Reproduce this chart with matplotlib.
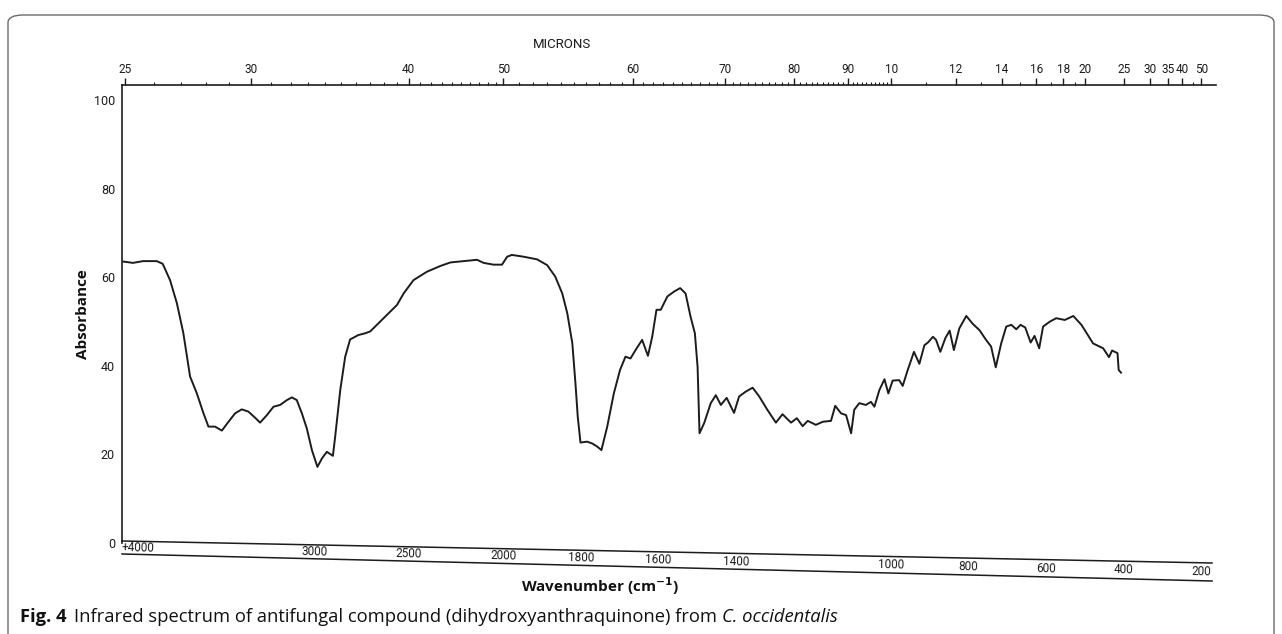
import numpy as np
import matplotlib
matplotlib.use("Agg")
import matplotlib.pyplot as plt
from matplotlib.transforms import blended_transform_factory
from matplotlib.patches import FancyBboxPatch
from matplotlib.lines import Line2D

# ---------------- data ----------------
wavenumber = [4009, 3958, 3905, 3832, 3801, 3762, 3726, 3692, 3656, 3621, 3586, 3559, 3524, 3488,
              3453, 3418, 3383, 3348, 3312, 3286, 3250, 3215, 3180, 3144, 3118, 3092, 3065, 3039,
              3012, 2983, 2959, 2933, 2901, 2889, 2862, 2836, 2810, 2766, 2730, 2704, 2633, 2562,
              2527, 2475, 2404, 2333, 2280, 2210, 2139, 2104, 2051, 2007, 1990, 1978, 1948, 1913,
              1887, 1866, 1848, 1835, 1822, 1814, 1808, 1801, 1784, 1771, 1758, 1747, 1732, 1715,
              1699, 1685, 1672, 1659, 1642, 1627, 1616, 1605, 1594, 1577, 1560, 1544, 1530, 1517,
              1506, 1499, 1494, 1482, 1465, 1452, 1439, 1424, 1405, 1392, 1375, 1357, 1340, 1319,
              1297, 1280, 1258, 1243, 1228, 1215, 1194, 1176, 1155, 1144, 1129, 1116, 1103, 1095,
              1082, 1065, 1052, 1043, 1030, 1017, 1007, 996, 979, 970, 957, 941, 927, 914, 905,
              892, 884, 873, 860, 849, 838, 824, 806, 789, 772, 755, 742, 730, 716, 703, 690, 677,
              666, 654, 640, 630, 618, 608, 591, 574, 552, 530, 509, 479, 453, 438, 430, 416, 413,
              407]
absorbance = [63.6, 63.3, 63.7, 63.7, 63.1, 59.4, 54.2, 47.5, 37.6, 33.9, 29.4, 26.3, 26.3, 25.4,
              27.4, 29.3, 30.2, 29.7, 28.3, 27.2, 28.9, 30.8, 31.2, 32.3, 32.9, 32.3, 29.3, 25.9,
              21.0, 17.2, 19.1, 20.6, 19.7, 24.0, 34.6, 42.1, 46.0, 47.0, 47.4, 47.8, 50.8, 53.8,
              56.4, 59.4, 61.3, 62.6, 63.4, 63.7, 64.0, 63.3, 62.9, 62.9, 64.7, 65.1, 64.7, 64.1,
              62.8, 60.2, 56.4, 51.9, 45.1, 36.1, 28.5, 22.7, 22.9, 22.5, 21.8, 21.0, 26.3, 33.8,
              39.1, 42.1, 41.7, 43.6, 45.9, 42.3, 46.6, 52.7, 52.7, 55.7, 56.8, 57.6, 56.4, 51.1,
              47.4, 39.8, 24.8, 27.1, 31.6, 33.4, 31.2, 32.8, 29.4, 33.1, 34.2, 35.1, 33.1, 30.1,
              27.2, 29.1, 27.2, 28.2, 26.4, 27.6, 26.7, 27.4, 27.6, 31.0, 29.3, 28.9, 24.8, 30.1,
              31.6, 31.2, 31.9, 30.8, 34.6, 37.0, 33.8, 36.7, 36.8, 35.5, 39.1, 43.2, 40.5, 44.7, 45.3,
              46.6, 45.9, 43.2, 46.3, 48.0, 43.6, 48.5, 51.3, 49.5, 48.1, 45.9, 44.4, 39.7, 45.1, 48.9,
              49.3, 48.3, 49.3, 48.7, 45.3, 46.8, 44.0, 48.9, 50.0, 50.8, 50.4, 51.3, 49.3, 45.1, 44.0,
              42.0, 43.5, 42.9, 39.1, 38.5]

wn_ticks = [4000, 3000, 2500, 2000, 1800, 1600, 1400, 1000, 800, 600, 400, 200]
wn_labels = ["+4000", "3000", "2500", "2000", "1800", "1600", "1400", "1000", "800", "600", "400", "200"]
micron_major = [2.5, 3.0, 4.0, 5.0, 6.0, 7.0, 8.0, 9.0, 10, 12, 14, 16, 18, 20, 25, 30, 35, 40, 50]
micron_labels = ["25", "30", "40", "50", "60", "70", "80", "90", "10", "12", "14", "16", "18", "20",
                 "25", "30", "35", "40", "50"]
micron_minor = [round(2.5 + 0.1 * i, 2) for i in range(1, 75)] + [11, 13, 15, 17, 19, 45]
y_ticks = [0, 20, 40, 60, 80, 100]

# ---------------- figure ----------------
W, H = 1282, 634
fig = plt.figure(figsize=(W / 100, H / 100), dpi=100)
fig.patch.set_facecolor("white")

L, R, T, B = 122, 1216, 85, 543
ax = fig.add_axes([L / W, (H - B) / H, (R - L) / W, (B - T) / H])


def fwd(w):
    w = np.asarray(w, dtype=float)
    return np.where(w >= 2000, w, 2.05 * w - 2100)


def inv(u):
    u = np.asarray(u, dtype=float)
    return np.where(u >= 2000, u, (u + 2100) / 2.05)


ax.set_xscale("function", functions=(fwd, inv))
ax.set_xlim(4016, 162)
ax.set_ylim(0, 103.5)

ink = "#1c1c1c"
ax.plot(wavenumber, absorbance, color=ink, lw=1.4, solid_joinstyle="round")

for s in ["top", "right", "bottom"]:
    ax.spines[s].set_visible(False)
ax.spines["left"].set_color(ink)
ax.spines["left"].set_linewidth(1.2)

ax.set_xticks([])
ax.set_yticks(y_ticks)
ax.set_yticklabels([str(v) for v in y_ticks])
ax.tick_params(axis="y", length=0, pad=5, labelsize=9, labelcolor=ink)
for lab in ax.get_yticklabels():
    lab.set_family("Roboto")

ax.set_ylabel("Absorbance", fontsize=11, fontweight="bold", family="Open Sans", labelpad=3,
              color="#111")

# ---------------- top micron axis ----------------
top = ax.twiny()
top.set_xscale("function", functions=(fwd, inv))
top.set_xlim(4016, 162)
top.set_xticks([1e4 / m for m in micron_major])
top.set_xticklabels(micron_labels)
top.set_xticks([1e4 / m for m in micron_minor], minor=True)
top.tick_params(axis="x", which="major", direction="out", length=5, width=1, pad=1.5,
                labelsize=8.5, colors=ink)
top.tick_params(axis="x", which="minor", direction="out", length=2.5, width=0.8, colors=ink)
for lab in top.get_xticklabels():
    lab.set_family("Roboto")
for s in ["left", "right", "bottom"]:
    top.spines[s].set_visible(False)
top.spines["top"].set_color(ink)
top.spines["top"].set_linewidth(1.2)
fig.text(562 / W, 1 - 44 / H, "MICRONS", fontsize=9.5, family="Roboto", color=ink,
         ha="center", va="center")

# ---------------- slanted wavenumber strip ----------------
axh = B - T
axw = R - L


def ax_y(py):
    return (B - py) / axh


ax.add_line(Line2D([0, (1212 - L) / axw], [ax_y(541), ax_y(563)], transform=ax.transAxes,
                   color=ink, lw=1.1, clip_on=False))
ax.add_line(Line2D([0, (1212 - L) / axw], [ax_y(554), ax_y(581)], transform=ax.transAxes,
                   color=ink, lw=1.1, clip_on=False))

fig.canvas.draw()
bt = blended_transform_factory(ax.transData, ax.transAxes)
for w, lab in zip(wn_ticks, wn_labels):
    fx = ax.transAxes.inverted().transform(ax.transData.transform((w, 0)))[0]
    px = L + fx * axw
    py = 547.5 + (px - L) * 0.0225
    ha = "left" if w == 4000 else "center"
    xx = w if w != 4000 else 4016
    ax.text(xx, ax_y(py), lab, transform=bt, ha=ha, va="center", fontsize=8.5,
            family="Roboto", color=ink, rotation=-1.2, clip_on=False)

fig.text(600 / W, 1 - 586 / H, r"Wavenumber (cm$^{\mathbf{-1}}$)", fontsize=11, fontweight="bold",
         family="Open Sans", ha="center", va="center", color="#111")

# ---------------- caption ----------------
cy = 1 - 617 / H
t1 = fig.text(20 / W, cy, "Fig. 4", fontsize=13.2, fontweight="bold", family="Open Sans",
              ha="left", va="center", color="#111")
fig.canvas.draw()
r = fig.canvas.get_renderer()
x1 = t1.get_window_extent(r).x1 + 8
t2 = fig.text(x1 / W, cy, "Infrared spectrum of antifungal compound (dihydroxyanthraquinone) from",
              fontsize=13.2, family="Open Sans", ha="left", va="center", color="#111")
x2 = t2.get_window_extent(r).x1 + 5
fig.text(x2 / W, cy, "C. occidentalis", fontsize=13.2, family="Open Sans", style="italic",
         ha="left", va="center", color="#111")

# ---------------- frame ----------------
frame = FancyBboxPatch((8 / W, -20 / H), (1266) / W, (634 - 15 + 20) / H,
                       boxstyle="round,pad=0,rounding_size=0.012", transform=fig.transFigure,
                       fill=False, edgecolor="#6a6a6a", lw=1.0)
fig.patches.append(frame)

fig.savefig("out.png", dpi=100)
